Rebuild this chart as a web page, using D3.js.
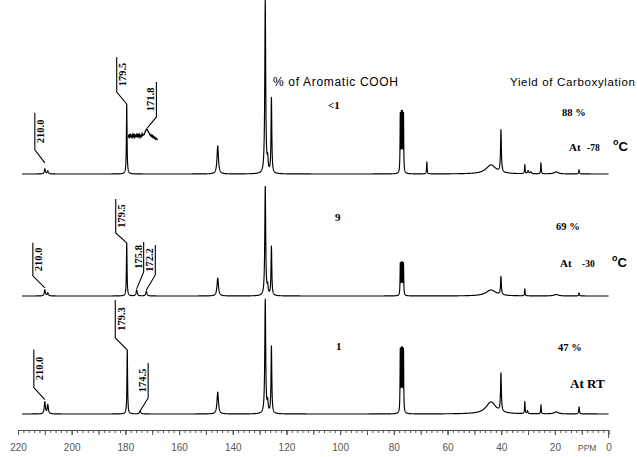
<!DOCTYPE html>
<html><head><meta charset="utf-8">
<script src="https://cdn.jsdelivr.net/npm/d3@7"></script>
<style>html,body{margin:0;padding:0;background:#fff;} svg{display:block}</style>
</head><body>
<svg id="chart" width="637" height="457"></svg>
<script>
// ---------------- DATA ----------------
const ppmDomain = [220, 0];
const tickLabels = [220, 200, 180, 160, 140, 120, 100, 80, 60, 40, 20, 0];
const conditions = ["-78", "-30", "RT"];
const aromaticCOOH = ["<1", "9", "1"];
const yieldCarboxylation = ["88 %", "69 %", "47 %"];

// peaks: [ppm, intensity, half-width (ppm)]
const peaksM78 = [
  [210.0, 5, 0.25], [208.9, 3, 0.25],
  [179.5, 70, 0.14],
  [145.6, 28, 0.32],
  [127.9, 173, 0.2], [127.0, 12, 0.2], [125.6, 75, 0.17],
  [77.6, 57, 0.1], [77.2, 56, 0.1], [76.8, 56, 0.1], [76.4, 57, 0.1],
  [67.7, 12, 0.12],
  [43.8, 9, 2.2], [40.1, 42, 0.18],
  [31.2, 9, 0.12], [30.0, 3, 0.25], [29.0, 2, 0.25], [25.2, 11, 0.12], [19.5, 2, 0.9], [11.0, 4, 0.15]
];
const peaksM30 = [
  [210.0, 6, 0.25], [208.9, 3, 0.25],
  [179.5, 53, 0.14], [175.8, 6, 0.25], [172.2, 5, 0.25],
  [145.6, 18, 0.32],
  [127.9, 109, 0.2], [127.0, 8, 0.2], [125.6, 49, 0.17],
  [77.6, 31, 0.1], [77.2, 30, 0.1], [76.8, 30, 0.1], [76.4, 31, 0.1],
  [43.8, 6, 2.2], [40.1, 18, 0.18],
  [31.2, 7, 0.12], [19.5, 1.5, 0.9], [11.0, 3, 0.15]
];
const peaksRT = [
  [210.0, 12, 0.25], [208.9, 9, 0.25],
  [179.3, 64, 0.14], [174.5, 3, 0.3],
  [145.6, 22, 0.32],
  [127.9, 114, 0.2], [127.0, 10, 0.2], [125.6, 67, 0.17],
  [77.6, 61, 0.1], [77.2, 59, 0.1], [76.8, 59, 0.1], [76.4, 61, 0.1],
  [43.8, 12, 2.2], [40.1, 38, 0.18],
  [31.2, 12, 0.12], [30.2, 3, 0.2], [25.2, 9, 0.12], [19.5, 2, 0.9], [11.0, 7, 0.15]
];
const spectraPeaks = [peaksM78, peaksM30, peaksRT];

// expanded (inset) trace of the -78 spectrum, 179.0 -> 168.0 ppm
const insetStart = 179.0, insetStep = 0.25;
const insetValues = [5,8,4,9,6,7,4,8,6,9,5,7,6,8,5,9,6,8,5,7,6,9,7,8,8,10,12,13,14,13,11,10,9,7,8,6,7,5,6,4,5,3,4,3,2];

// peak labels
const labelsM78 = [[210.0, "210.0"], [179.5, "179.5"], [171.8, "171.8"]];
const labelsM30 = [[210.0, "210.0"], [179.5, "179.5"], [175.8, "175.8"], [172.2, "172.2"]];
const labelsRT  = [[210.0, "210.0"], [179.3, "179.3"], [174.5, "174.5"]];
const spectraLabels = [labelsM78, labelsM30, labelsRT];

// ---------------- LAYOUT ----------------
const W = 637, H = 457;
const svg = d3.select("#chart");
svg.append("rect").attr("width", W).attr("height", H).attr("fill", "#fff");

const x = d3.scaleLinear().domain(ppmDomain).range([18, 608.6]);
const baselines = [174, 296, 414];
const yScales = baselines.map(b => d3.scaleLinear().domain([0, 100]).range([b, b - 100]));

const leaderLayout = [
  [{gap:6,dx:-10,dy:-13,len:37,side:"r"}, {gap:0,dx:-10,dy:-12,len:35,side:"r"}, {gap:0,dx:9,dy:-11,len:35,side:"l",inset:true}],
  [{gap:2,dx:-12,dy:-12,len:33,side:"r"}, {gap:0,dx:-11,dy:-10,len:34,side:"r"}, {gap:1,dx:7,dy:-17,len:30,side:"l"}, {gap:1,dx:9,dy:-15,len:30,side:"l"}],
  [{gap:2,dx:-11,dy:-12,len:38,side:"r"}, {gap:0,dx:-12,dy:-12,len:38,side:"r"}, {gap:0,dx:8,dy:-13,len:35,side:"l"}]
];

function intensity(peaks, p) {
  let s = 0;
  for (const [c, h, w] of peaks) s += h * w * w / ((p - c) * (p - c) + w * w);
  return s;
}

const line = d3.line().x(d => x(d[0])).y(d => d[1]);

spectraPeaks.forEach((peaks, i) => {
  const ys = yScales[i];
  let grid = d3.range(218.5, 0, -0.03).concat(peaks.map(p => p[0]));
  grid.sort((a, b) => b - a);
  const pts = grid.map(p => [p, ys(intensity(peaks, p))]);
  svg.append("path").attr("d", line(pts))
    .attr("fill", "none").attr("stroke", "#000").attr("stroke-width", 1.15)
    .attr("stroke-linejoin", "round");
});

// inset trace
const insetY = d3.scaleLinear().domain([0, 15]).range([142, 128]);
const insetPts = insetValues.map((v, k) => [insetStart - k * insetStep, insetY(v)]);
svg.append("path").attr("d", line(insetPts))
  .attr("fill", "none").attr("stroke", "#000").attr("stroke-width", 1.3);

// leader lines and labels
spectraLabels.forEach((labs, i) => {
  labs.forEach(([ppm, txt], k) => {
    const L = leaderLayout[i][k];
    const ax = x(ppm);
    let ay;
    if (L.inset) {
      const idx = Math.round((insetStart - ppm) / insetStep);
      ay = insetY(d3.max(insetValues.slice(Math.max(0, idx - 1), idx + 2))) - 1 - L.gap;
    } else {
      ay = yScales[i](intensity(spectraPeaks[i], ppm)) - L.gap;
    }
    const ex = ax + L.dx, ey = ay + L.dy, ty = ey - L.len;
    svg.append("path").attr("d", `M${ax},${ay}L${ex},${ey}L${ex},${ty}`)
      .attr("fill", "none").attr("stroke", "#000").attr("stroke-width", 1.1);
    const tx = L.side === "r" ? ex + 9.5 : ex - 2;
    svg.append("text")
      .attr("transform", `translate(${tx},${(ey + ty) / 2}) rotate(-90)`)
      .attr("text-anchor", "middle")
      .attr("font-family", "Liberation Serif").attr("font-weight", "bold")
      .attr("font-size", 10.5).attr("fill", "#000").text(txt);
  });
});

// ---------------- AXIS ----------------
const axisY = 430;
const axG = svg.append("g").attr("transform", `translate(0,${axisY})`);
const minor = d3.range(218, 0, -2);
axG.append("g").call(d3.axisBottom(x).tickValues(minor).tickSize(3).tickFormat("").tickSizeOuter(0));
axG.append("g").call(d3.axisBottom(x).tickValues(d3.range(210, 0, -10)).tickSize(5).tickFormat("").tickSizeOuter(0));
axG.append("g").call(d3.axisBottom(x).tickValues(tickLabels).tickSize(5).tickPadding(9).tickSizeOuter(0).tickFormat(d => d));
axG.append("line").attr("x1", x(0)).attr("x2", x(0)).attr("y1", 0).attr("y2", 8);
axG.selectAll("path.domain").attr("stroke", "#555");
axG.selectAll("line").attr("stroke", "#555");
axG.selectAll("text").attr("font-family", "Liberation Sans").attr("font-size", 10).attr("fill", "#555");
svg.append("text").attr("x", 578).attr("y", 451).attr("font-family", "Liberation Sans")
  .attr("font-size", 8.5).attr("fill", "#555").text("PPM");

// ---------------- TEXT ----------------
svg.append("text").attr("x", 273).attr("y", 86).attr("font-family", "Liberation Sans")
  .attr("font-size", 12).attr("textLength", 125).attr("fill", "#000").text("% of Aromatic COOH");
svg.append("text").attr("x", 510).attr("y", 86).attr("font-family", "Liberation Sans")
  .attr("font-size", 11.5).attr("textLength", 125).attr("fill", "#000").text("Yield of Carboxylation");

const serif = s => s.attr("font-family", "Liberation Serif").attr("font-weight", "bold").attr("fill", "#000");
const cooX = [328, 335, 336], cooY = [109, 221, 350];
aromaticCOOH.forEach((t, i) => serif(svg.append("text")).attr("x", cooX[i]).attr("y", cooY[i]).attr("font-size", 11).text(t));
const yldX = [562, 556, 558], yldY = [116, 230, 351];
yieldCarboxylation.forEach((t, i) => serif(svg.append("text")).attr("x", yldX[i]).attr("y", yldY[i]).attr("font-size", 10.5).text(t));

// condition labels
const condY = [151, 267, 388];
[[569, 587, 613], [560, 582, 612]].forEach((xs, i) => {
  serif(svg.append("text")).attr("x", xs[0]).attr("y", condY[i]).attr("font-size", 11).text("At");
  serif(svg.append("text")).attr("x", xs[1]).attr("y", condY[i]).attr("font-size", 9.5).text(conditions[i]);
  const t = serif(svg.append("text")).attr("x", xs[2]).attr("y", condY[i]).attr("font-family", "Liberation Sans");
  t.append("tspan").attr("font-size", 9).attr("dy", -6).text("o");
  t.append("tspan").attr("font-size", 13).attr("dy", 6).text("C");
});
serif(svg.append("text")).attr("x", 570).attr("y", condY[2]).attr("font-size", 13).text("At " + conditions[2]);
</script>
</body></html>
